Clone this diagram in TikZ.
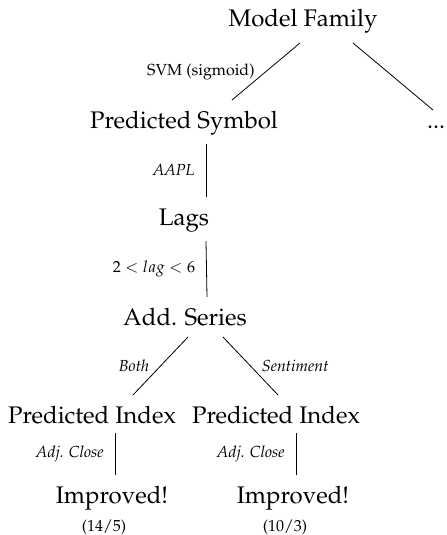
\documentclass[tikz,border=0pt]{standalone}
\usepackage[T1]{fontenc}
\usepackage{mathpazo}
\usepackage{tikz}

\tikzset{
  tree/.style={anchor=base, inner sep=0pt, outer sep=5pt, text height=9pt, text depth=3pt, font=\fontsize{12}{14}\selectfont},
  lbl/.style={inner sep=0pt, font=\fontsize{8}{10}\selectfont},
  note/.style={anchor=base, inner sep=0pt, font=\fontsize{8}{10}\selectfont},
}

\begin{document}
\begin{tikzpicture}[x=0.5pt, y=-0.5pt]
        \useasboundingbox (0,0) rectangle (446,535);

        \draw (303,27) node [tree] (mf) {Model Family};
        \draw (184,128) node [tree] (ps) {Predicted Symbol};
        \draw (436,128) node [tree] (more) {...};
        \draw (184,225) node [tree] (lags) {Lags};
        \draw (185,325) node [tree] (as) {Add. Series};
        \draw (92,423) node [tree] (pil) {Predicted Index};
        \draw (276,423) node [tree] (pir) {Predicted Index};
        \draw (112,503) node [tree] (iml) {Improved!};
        \draw (293,503) node [tree] (imr) {Improved!};
        \draw (104,531) node [note] (scl) {(14/5)};
        \draw (285,531) node [note] (scr) {(10/3)};

        \draw ([xshift=-1.5pt]mf.south) -- node [lbl, left=5.5pt] {SVM (sigmoid)} ([xshift=24pt]ps.north);
        \draw ([xshift=25pt]mf.south) -- ([xshift=-1.5pt,yshift=-5pt]more.north);
        \draw ([xshift=11pt]ps.south) -- node [lbl, left=5.5pt] {\textit{AAPL}} ([xshift=11pt]lags.north);
        \draw ([xshift=11pt]lags.south) -- node [lbl, left=5.5pt] {$2 < lag < 6$} ([xshift=11pt]as.north);
        \draw ([xshift=1.5pt,yshift=2pt]as.south) -- node [lbl, left=5.5pt] {\textit{Both}} ([xshift=20.5pt]pil.north);
        \draw ([xshift=19pt,yshift=2pt]as.south) -- node [lbl, right=5.5pt] {\textit{Sentiment}} ([xshift=1pt]pir.north);
        \draw ([xshift=11.5pt,yshift=3pt]pil.south) -- node [lbl, left=5.5pt] {\textit{Adj. Close}} ([xshift=1.5pt]iml.north);
        \draw ([xshift=10pt,yshift=3pt]pir.south) -- node [lbl, left=5.5pt] {\textit{Adj. Close}} ([xshift=1.5pt]imr.north);
    \end{tikzpicture}
\end{document}
